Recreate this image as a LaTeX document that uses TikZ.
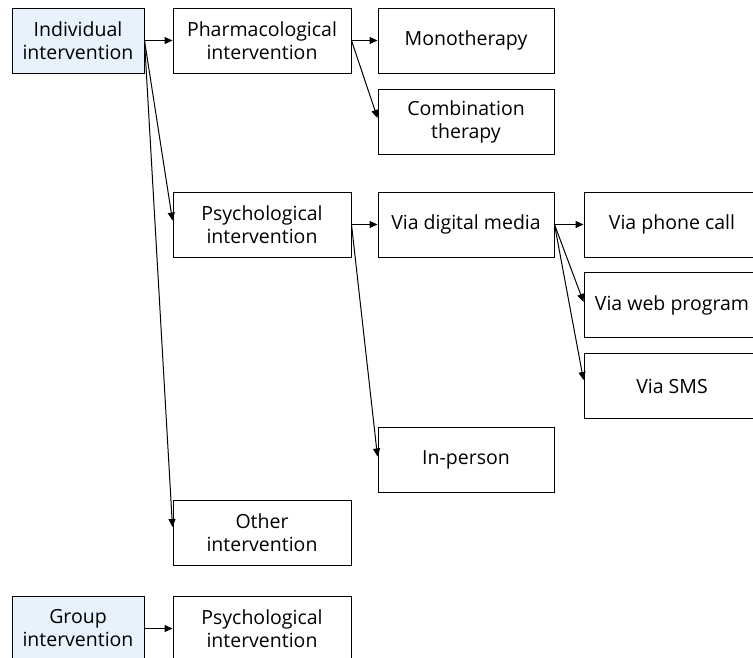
\documentclass[tikz,border=0pt]{standalone}
\usepackage{fontspec}
\setmainfont{Open Sans}
\usetikzlibrary{arrows.meta, positioning, calc}
\definecolor{groupblue}{RGB}{232,242,252}
\tikzset {
    box/.style = {draw, line width = 1pt, align = center, inner sep = 1pt,
        font = \fontsize{19.5}{23}\selectfont, minimum height = 65pt},
    narrow box/.style = {box, minimum width = 132pt},
    wide box/.style = {box, minimum width = 178pt},
    group box/.style = {narrow box, fill = groupblue},
    link/.style = {line width = 1pt, -{Triangle[length = 8pt, width = 7pt]}}
}
\begin{document}
\begin{tikzpicture}[x = 1pt, y = -1pt]
            \useasboundingbox (0, 0) rectangle (753, 657);
            \clip (0, 0) rectangle (753, 657);
            % first column
            \node (ind) [group box] at (78, 40.5) {Individual\\intervention};
            \node (grp) [group box] at (78, 628.5) {Group\\intervention};
            % second column
            \node (pharm) [wide box] at (262, 40.5) {Pharmacological\\intervention};
            \node (psy) [wide box] at (262, 224.5) {Psychological\\intervention};
            \node (other) [wide box] at (262, 533) {Other\\intervention};
            \node (gpsy) [wide box] at (262, 628.5) {Psychological\\intervention};
            % third column
            \node (mono) [wide box, minimum width = 176pt] at (466, 40.5) {Monotherapy};
            \node (comb) [wide box, minimum width = 176pt] at (466, 122) {Combination\\therapy};
            \node (digital) [wide box, minimum width = 176pt] at (466, 224.5) {Via digital media};
            \node (inperson) [wide box, minimum width = 176pt] at (466, 459.5) {In-person};
            % fourth column
            \node (phone) [wide box, minimum width = 176pt] at (672, 224.5) {Via phone call};
            \node (web) [wide box, minimum width = 176pt] at (672, 305) {Via web program};
            \node (sms) [wide box, minimum width = 176pt] at (672, 386) {Via SMS};
            % links
            \draw [link] (ind.east) -- (pharm.west);
            \draw [link] (ind.east) -- ($ (psy.west) + (0, -4) $);
            \draw [link] (ind.east) -- ($ (other.west) + (0, -6) $);
            \draw [link] (pharm.east) -- (mono.west);
            \draw [link] (pharm.east) -- ($ (comb.west) + (0, -4) $);
            \draw [link] (psy.east) -- (digital.west);
            \draw [link] (psy.east) -- ($ (inperson.west) + (0, -3) $);
            \draw [link] (digital.east) -- (phone.west);
            \draw [link] (digital.east) -- ($ (web.west) + (0, -3) $);
            \draw [link] (digital.east) -- ($ (sms.west) + (0, -6) $);
            \draw [link] (grp.east) -- (gpsy.west);
        \end{tikzpicture}
\end{document}
